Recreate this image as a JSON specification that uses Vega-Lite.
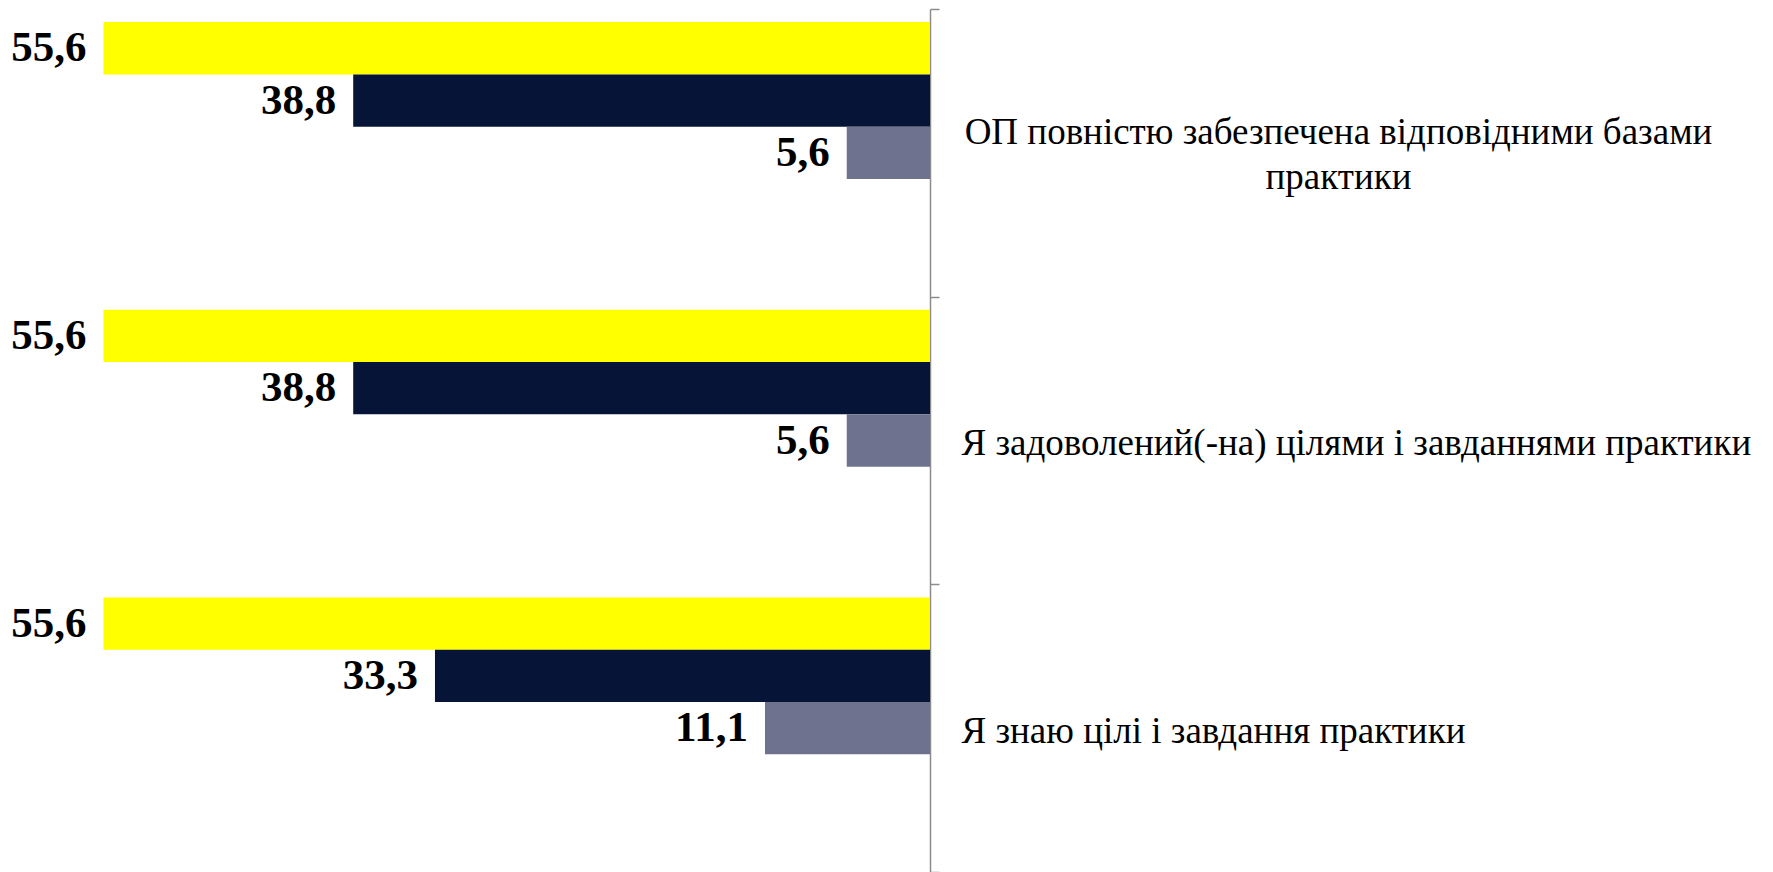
{
  "$schema": "https://vega.github.io/schema/vega-lite/v6.json",
  "autosize": {"type": "none"},
  "padding": {"left": 0, "top": 9, "right": 843, "bottom": 0},
  "width": 930,
  "height": 863,
  "background": "white",
  "config": {"view": {"stroke": null}, "axis": {"labelFont": "Liberation Serif, Times New Roman, serif"}},
  "data": {
    "values": [
      {"category": "ОП повністю забезпечена відповідними базами практики", "series": "1", "value": 55.6, "label": "55,6"},
      {"category": "ОП повністю забезпечена відповідними базами практики", "series": "2", "value": 38.8, "label": "38,8"},
      {"category": "ОП повністю забезпечена відповідними базами практики", "series": "3", "value": 5.6, "label": "5,6"},
      {"category": "Я задоволений(-на) цілями і завданнями практики", "series": "1", "value": 55.6, "label": "55,6"},
      {"category": "Я задоволений(-на) цілями і завданнями практики", "series": "2", "value": 38.8, "label": "38,8"},
      {"category": "Я задоволений(-на) цілями і завданнями практики", "series": "3", "value": 5.6, "label": "5,6"},
      {"category": "Я знаю цілі і завдання практики", "series": "1", "value": 55.6, "label": "55,6"},
      {"category": "Я знаю цілі і завдання практики", "series": "2", "value": 33.3, "label": "33,3"},
      {"category": "Я знаю цілі і завдання практики", "series": "3", "value": 11.1, "label": "11,1"}
    ]
  },
  "encoding": {
    "y": {
      "field": "category",
      "type": "nominal",
      "sort": ["ОП повністю забезпечена відповідними базами практики", "Я задоволений(-на) цілями і завданнями практики", "Я знаю цілі і завдання практики"],
      "scale": {"paddingInner": 0, "paddingOuter": 0},
      "axis": {
        "orient": "right",
        "title": null,
        "domainColor": "#8c8c8c",
        "domainWidth": 1.5,
        "tickColor": "#8c8c8c",
        "tickWidth": 1.5,
        "tickSize": 9,
        "tickBand": "extent",
        "labelFont": "Liberation Serif",
        "labelFontSize": 37,
        "labelColor": "#000000",
        "labelLimit": 0,
        "labelLineHeight": 45,
        "labelBaseline": "middle",
        "labelAlign": {"condition": {"test": "datum.value == 'ОП повністю забезпечена відповідними базами практики'", "value": "center"}, "value": "left"},
        "labelPadding": {"condition": {"test": "datum.value == 'ОП повністю забезпечена відповідними базами практики'", "value": 399}, "value": 22},
        "labelOffset": {"condition": {"test": "datum.value == 'ОП повністю забезпечена відповідними базами практики'", "value": -20}, "value": 3},
        "labelExpr": "datum.value == 'ОП повністю забезпечена відповідними базами практики' ? ['ОП повністю забезпечена відповідними базами', 'практики'] : datum.value"
      }
    },
    "yOffset": {
      "field": "series",
      "type": "nominal",
      "scale": {"domain": ["1", "2", "3", "4", "5"], "paddingInner": 0, "paddingOuter": 0.25}
    },
    "x": {
      "field": "value",
      "type": "quantitative",
      "scale": {"domain": [0, 62.56], "reverse": true, "nice": false, "zero": true},
      "axis": null
    }
  },
  "layer": [
    {
      "mark": {"type": "bar", "cornerRadius": 0},
      "encoding": {
        "color": {
          "field": "series",
          "type": "nominal",
          "scale": {"domain": ["1", "2", "3"], "range": ["#FFFF00", "#061437", "#6F728F"]},
          "legend": null
        }
      }
    },
    {
      "mark": {"type": "text", "align": "right", "baseline": "middle", "dx": -17, "font": "Liberation Serif", "fontWeight": "bold", "fontSize": 43, "color": "#000000"},
      "encoding": {
        "text": {"field": "label", "type": "nominal"}
      }
    }
  ]
}
